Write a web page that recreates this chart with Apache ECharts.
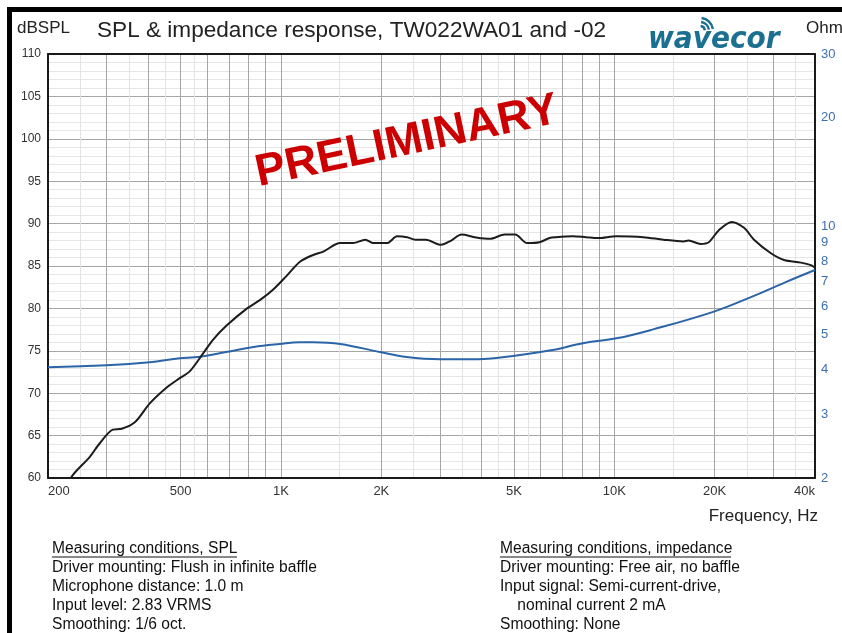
<!DOCTYPE html>
<html>
<head>
<meta charset="utf-8">
<script src="https://cdn.jsdelivr.net/npm/echarts@6/dist/echarts.min.js"></script>
<style>
  html, body { margin: 0; padding: 0; background: #fff; }
  #chart { width: 842px; height: 633px; }
</style>
</head>
<body>
<div id="chart"></div>
<script>
// tick values
const freqLabels = [200, 500, 1000, 2000, 5000, 10000, 20000, 40000];
const freqMajor = [200, 300, 400, 500, 600, 700, 800, 900, 1000, 2000, 3000, 4000, 5000, 6000, 7000, 8000, 9000, 10000, 20000, 30000, 40000];
const freqMinor = [250, 350, 450, 550, 1500, 2500, 3500, 4500, 5500, 15000, 25000, 35000];
const ohmTicks = [2, 3, 4, 5, 6, 7, 8, 9, 10, 20, 30];

// SPL response (dB)
const splFreq = [222, 238, 267, 286, 313, 333, 365, 404, 455, 498, 533, 584, 625, 688, 791, 866, 946, 1043, 1140, 1249, 1340, 1505, 1646, 1790, 1894, 2080, 2230, 2390, 2530, 2720, 3020, 3240, 3480, 3810, 4230, 4690, 5040, 5480, 5960, 6390, 6680, 7500, 8220, 8930, 10150, 12230, 14040, 16130, 16700, 18150, 19200, 20560, 22500, 24500, 26250, 29500, 32300, 36300, 38900, 40000];
const splDb = [58.5, 60.4, 62.5, 64.1, 65.7, 65.8, 66.6, 68.8, 70.7, 71.8, 72.6, 74.7, 76.3, 78.0, 80.0, 81.0, 82.2, 83.9, 85.5, 86.3, 86.7, 87.7, 87.7, 88.1, 87.7, 87.7, 88.5, 88.4, 88.1, 88.1, 87.5, 88.0, 88.7, 88.4, 88.2, 88.7, 88.7, 87.7, 87.8, 88.3, 88.4, 88.5, 88.4, 88.3, 88.5, 88.4, 88.1, 87.9, 88.0, 87.6, 87.8, 89.2, 90.2, 89.5, 88.1, 86.5, 85.7, 85.4, 85.1, 84.8];

// impedance (Ohm)
const impFreq = [200, 300, 404, 490, 572, 684, 828, 992, 1140, 1250, 1505, 1980, 2380, 3000, 3900, 5150, 6450, 8120, 10150, 13000, 19800, 25800, 32800, 40000];
const impOhm = [4.06, 4.11, 4.19, 4.29, 4.34, 4.47, 4.62, 4.71, 4.76, 4.76, 4.71, 4.47, 4.33, 4.27, 4.27, 4.38, 4.52, 4.74, 4.88, 5.16, 5.78, 6.36, 7.0, 7.55];

const chart = echarts.init(document.getElementById('chart'));
const font = 'Liberation Sans, Arial, sans-serif';
const teal = '#1b6f91';

function freqFmt(v) {
  if (v == 40000) return '40k';
  return v >= 1000 ? (v / 1000) + 'K' : String(v);
}

const leftText = [
  'Driver mounting: Flush in infinite baffle',
  'Microphone distance: 1.0 m',
  'Input level: 2.83 VRMS',
  'Smoothing: 1/6 oct.'
];
const rightText = [
  'Driver mounting: Free air, no baffle',
  'Input signal: Semi-current-drive,',
  '    nominal current 2 mA',
  'Smoothing: None'
];

const graphics = [
  // frame bars
  { type: 'rect', shape: { x: 7, y: 7, width: 5, height: 626 }, style: { fill: '#000' } },
  { type: 'rect', shape: { x: 7, y: 7, width: 835, height: 5 }, style: { fill: '#000' } },
  { type: 'text', x: 17, y: 28, style: { text: 'dBSPL', font: '17px ' + font, fill: '#222', verticalAlign: 'middle' } },
  { type: 'text', x: 806, y: 28, style: { text: 'Ohm', font: '17px ' + font, fill: '#222', verticalAlign: 'middle' } },
  { type: 'text', x: 97, y: 31, style: { text: 'SPL & impedance response, TW022WA01 and -02', font: '22.6px ' + font, fill: '#222', verticalAlign: 'middle' } },
  { type: 'text', x: 818, y: 516, style: { text: 'Frequency, Hz', font: '17px ' + font, fill: '#222', align: 'right', verticalAlign: 'middle' } },
  // logo
  { type: 'text', x: 648, y: 40, scaleY: 1.1,
    style: { text: 'wavecor', font: 'italic bold 28px DejaVu Sans, sans-serif', fill: teal, verticalAlign: 'middle' } },
  { type: 'arc', shape: { cx: 700, cy: 31, r: 5, startAngle: -1.45, endAngle: -0.15 }, style: { stroke: teal, lineWidth: 2.5, fill: null } },
  { type: 'arc', shape: { cx: 700, cy: 31, r: 9, startAngle: -1.45, endAngle: -0.15 }, style: { stroke: teal, lineWidth: 2.5, fill: null } },
  { type: 'arc', shape: { cx: 700, cy: 31, r: 13, startAngle: -1.45, endAngle: -0.15 }, style: { stroke: teal, lineWidth: 2.5, fill: null } },
  // watermark
  { type: 'text', x: 407, y: 142, rotation: 0.21, z: 100,
    style: { text: 'PRELIMINARY', font: 'bold 45px ' + font, fill: '#cc0000', align: 'center', verticalAlign: 'middle' } },
  // notes
  { type: 'text', x: 52, y: 549, style: { text: 'Measuring conditions, SPL', font: '15.6px ' + font, fill: '#111', verticalAlign: 'middle' } },
  { type: 'line', shape: { x1: 52, y1: 557, x2: 237, y2: 557 }, style: { stroke: '#111', lineWidth: 1 } },
  { type: 'text', x: 500, y: 549, style: { text: 'Measuring conditions, impedance', font: '15.6px ' + font, fill: '#111', verticalAlign: 'middle' } },
  { type: 'line', shape: { x1: 500, y1: 557, x2: 731, y2: 557 }, style: { stroke: '#111', lineWidth: 1 } }
];
leftText.forEach(function (t, i) {
  graphics.push({ type: 'text', x: 52, y: 568 + i * 19, style: { text: t, font: '15.6px ' + font, fill: '#111', verticalAlign: 'middle' } });
});
rightText.forEach(function (t, i) {
  graphics.push({ type: 'text', x: 500, y: 568 + i * 19, style: { text: t, font: '15.6px ' + font, fill: '#111', verticalAlign: 'middle' } });
});

const option = {
  animation: false,
  backgroundColor: '#fff',
  grid: { left: 48, right: 27, top: 54, bottom: 155 },
  xAxis: [
    {
      type: 'log', logBase: 10, min: 200, max: 40000, position: 'bottom',
      axisLine: { show: true, lineStyle: { color: '#1a1a1a', width: 2 } },
      axisTick: { show: false, customValues: freqMajor },
      axisLabel: {
        customValues: freqLabels, formatter: freqFmt, color: '#333', fontSize: 13,
        fontFamily: font, margin: 7, alignMinLabel: 'left', alignMaxLabel: 'right'
      },
      splitLine: { show: true, lineStyle: { color: '#a6a6a6', width: 1 } }
    },
    {
      type: 'log', logBase: 10, min: 200, max: 40000, position: 'top',
      axisLine: { show: true, lineStyle: { color: '#1a1a1a', width: 2 } },
      axisTick: { show: false, customValues: freqMinor },
      axisLabel: { show: false },
      splitLine: { show: true, lineStyle: { color: '#e3e3e3', width: 1 } }
    }
  ],
  yAxis: [
    {
      type: 'value', min: 60, max: 110, interval: 5, position: 'left',
      axisLine: { show: true, lineStyle: { color: '#1a1a1a', width: 2 } },
      axisTick: { show: false },
      axisLabel: { color: '#333', fontSize: 12, fontFamily: font, margin: 7 },
      splitLine: { show: true, lineStyle: { color: '#a6a6a6', width: 1 } },
      minorTick: { show: false, splitNumber: 5 },
      minorSplitLine: { show: true, lineStyle: { color: '#e6e6e6', width: 1 } }
    },
    {
      type: 'log', logBase: 10, min: 2, max: 30, position: 'right',
      axisLine: { show: true, lineStyle: { color: '#1a1a1a', width: 2 } },
      axisTick: { show: false, customValues: ohmTicks },
      axisLabel: { customValues: ohmTicks, color: '#3d6fb0', fontSize: 13, fontFamily: font, margin: 6 },
      splitLine: { show: false }
    }
  ],
  series: [
    {
      name: 'SPL', type: 'line', xAxisIndex: 0, yAxisIndex: 0, showSymbol: false, smooth: 0.3,
      lineStyle: { color: '#1c1c1c', width: 2 },
      data: splFreq.map(function (f, i) { return [f, splDb[i]]; }),
      z: 4
    },
    {
      name: 'Impedance', type: 'line', xAxisIndex: 0, yAxisIndex: 1, showSymbol: false, smooth: 0.4,
      lineStyle: { color: '#2b65a8', width: 2 },
      data: impFreq.map(function (f, i) { return [f, impOhm[i]]; }),
      z: 3
    }
  ],
  graphic: graphics
};
chart.setOption(option);
</script>
</body>
</html>
